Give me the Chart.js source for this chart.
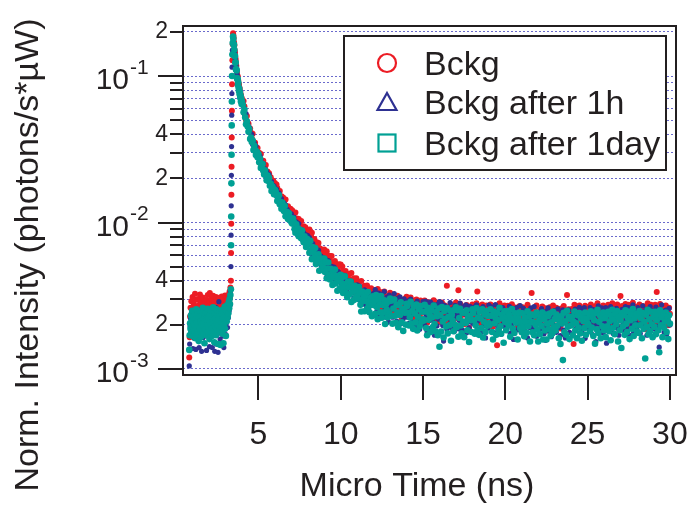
<!DOCTYPE html>
<html>
<head>
<meta charset="utf-8">
<script src="https://cdn.jsdelivr.net/npm/chart.js@4.4.0/dist/chart.umd.min.js"></script>
<style>
  html, body { margin: 0; background: #fff; }
  canvas { display: block; }
</style>
</head>
<body>
<canvas id="decayChart" width="690" height="506"></canvas>
<script>
/* ---------- Data (intensities stored in units of 1e-5) ---------- */
const Y_UNIT = 1e-5;

const microTime = [
  // before the pulse
  0.800,0.825,0.850,0.875,0.900,0.925,0.950,0.975,1.000,1.025,1.050,1.075,1.100,1.125,1.150,1.175,1.200,1.225,1.250,1.275,
  1.300,1.325,1.350,1.375,1.400,1.425,1.450,1.475,1.500,1.525,1.550,1.575,1.600,1.625,1.650,1.675,1.700,1.725,1.750,1.775,
  1.800,1.825,1.850,1.875,1.900,1.925,1.950,1.975,2.000,2.025,2.050,2.075,2.100,2.125,2.150,2.175,2.200,2.225,2.250,2.275,
  2.300,2.325,2.350,2.375,2.400,2.425,2.450,2.475,2.500,2.525,2.550,2.575,2.600,2.625,2.650,2.675,2.700,2.725,2.750,2.775,
  2.800,2.825,2.850,2.875,2.900,2.925,2.950,2.975,3.000,3.025,3.050,3.075,3.100,3.125,3.150,3.175,3.200,3.225,3.250,3.275,
  3.300,
  // rising edge
  3.33,3.34,3.35,3.36,3.37,3.38,3.39,3.40,3.42,3.44,3.46,
  // peak
  3.48,3.50,3.52,3.54,3.56,3.58,3.60,3.62,3.64,3.66,3.68,3.70,3.72,3.74,3.76,3.78,3.80,3.82,3.84,3.86,
  3.88,3.90,3.92,3.94,3.96,3.98,4.00,
  // fast decay
  4.05,4.10,4.15,4.20,4.25,4.30,4.35,4.40,4.45,4.50,4.55,4.60,4.65,4.70,4.75,4.80,4.85,4.90,4.95,5.00,
  5.05,5.10,5.15,5.20,5.25,5.30,5.35,5.40,5.45,5.50,5.55,5.60,5.65,5.70,5.75,5.80,5.85,5.90,5.95,6.00,
  // slow decay + background
  6.05,6.10,6.15,6.20,6.25,6.30,6.35,6.40,6.45,6.50,6.55,6.60,6.65,6.70,6.75,6.80,6.85,6.90,6.95,7.00,
  7.05,7.10,7.15,7.20,7.25,7.30,7.35,7.40,7.45,7.50,7.55,7.60,7.65,7.70,7.75,7.80,7.85,7.90,7.95,8.00,
  8.05,8.10,8.15,8.20,8.25,8.30,8.35,8.40,8.45,8.50,8.55,8.60,8.65,8.70,8.75,8.80,8.85,8.90,8.95,9.00,
  9.05,9.10,9.15,9.20,9.25,9.30,9.35,9.40,9.45,9.50,9.55,9.60,9.65,9.70,9.75,9.80,9.85,9.90,9.95,10.00,
  10.05,10.10,10.15,10.20,10.25,10.30,10.35,10.40,10.45,10.50,10.55,10.60,10.65,10.70,10.75,10.80,10.85,10.90,10.95,11.00,
  11.05,11.10,11.15,11.20,11.25,11.30,11.35,11.40,11.45,11.50,11.55,11.60,11.65,11.70,11.75,11.80,11.85,11.90,11.95,12.00,
  12.05,12.10,12.15,12.20,12.25,12.30,12.35,12.40,12.45,12.50,12.55,12.60,12.65,12.70,12.75,12.80,12.85,12.90,12.95,13.00,
  13.05,13.10,13.15,13.20,13.25,13.30,13.35,13.40,13.45,13.50,13.55,13.60,13.65,13.70,13.75,13.80,13.85,13.90,13.95,14.00,
  14.05,14.10,14.15,14.20,14.25,14.30,14.35,14.40,14.45,14.50,14.55,14.60,14.65,14.70,14.75,14.80,14.85,14.90,14.95,15.00,
  15.05,15.10,15.15,15.20,15.25,15.30,15.35,15.40,15.45,15.50,15.55,15.60,15.65,15.70,15.75,15.80,15.85,15.90,15.95,16.00,
  16.05,16.10,16.15,16.20,16.25,16.30,16.35,16.40,16.45,16.50,16.55,16.60,16.65,16.70,16.75,16.80,16.85,16.90,16.95,17.00,
  17.05,17.10,17.15,17.20,17.25,17.30,17.35,17.40,17.45,17.50,17.55,17.60,17.65,17.70,17.75,17.80,17.85,17.90,17.95,18.00,
  18.05,18.10,18.15,18.20,18.25,18.30,18.35,18.40,18.45,18.50,18.55,18.60,18.65,18.70,18.75,18.80,18.85,18.90,18.95,19.00,
  19.05,19.10,19.15,19.20,19.25,19.30,19.35,19.40,19.45,19.50,19.55,19.60,19.65,19.70,19.75,19.80,19.85,19.90,19.95,20.00,
  20.05,20.10,20.15,20.20,20.25,20.30,20.35,20.40,20.45,20.50,20.55,20.60,20.65,20.70,20.75,20.80,20.85,20.90,20.95,21.00,
  21.05,21.10,21.15,21.20,21.25,21.30,21.35,21.40,21.45,21.50,21.55,21.60,21.65,21.70,21.75,21.80,21.85,21.90,21.95,22.00,
  22.05,22.10,22.15,22.20,22.25,22.30,22.35,22.40,22.45,22.50,22.55,22.60,22.65,22.70,22.75,22.80,22.85,22.90,22.95,23.00,
  23.05,23.10,23.15,23.20,23.25,23.30,23.35,23.40,23.45,23.50,23.55,23.60,23.65,23.70,23.75,23.80,23.85,23.90,23.95,24.00,
  24.05,24.10,24.15,24.20,24.25,24.30,24.35,24.40,24.45,24.50,24.55,24.60,24.65,24.70,24.75,24.80,24.85,24.90,24.95,25.00,
  25.05,25.10,25.15,25.20,25.25,25.30,25.35,25.40,25.45,25.50,25.55,25.60,25.65,25.70,25.75,25.80,25.85,25.90,25.95,26.00,
  26.05,26.10,26.15,26.20,26.25,26.30,26.35,26.40,26.45,26.50,26.55,26.60,26.65,26.70,26.75,26.80,26.85,26.90,26.95,27.00,
  27.05,27.10,27.15,27.20,27.25,27.30,27.35,27.40,27.45,27.50,27.55,27.60,27.65,27.70,27.75,27.80,27.85,27.90,27.95,28.00,
  28.05,28.10,28.15,28.20,28.25,28.30,28.35,28.40,28.45,28.50,28.55,28.60,28.65,28.70,28.75,28.80,28.85,28.90,28.95,29.00,
  29.05,29.10,29.15,29.20,29.25,29.30,29.35,29.40,29.45,29.50,29.55,29.60,29.65,29.70,29.75,29.80,29.85,29.90,29.95,30.00
];

const bckg = [
  120,165,228,262,204,290,236,198,310,252,216,280,190,244,326,230,268,206,298,224,
  186,254,300,232,212,276,322,240,264,196,284,248,218,308,236,270,182,256,292,226,
  262,214,296,238,274,320,204,250,286,232,330,224,266,192,302,246,278,214,316,240,
  272,200,288,234,258,310,220,264,188,294,242,276,214,306,250,230,284,196,270,312,
  228,264,300,212,250,282,236,318,266,244,296,258,314,276,300,262,322,290,338,306,
  360,
  400,620,980,1550,2400,3800,5800,8800,12800,16500,19600,
  19000,18200,17000,16200,15000,14400,13300,12900,12000,11700,10900,10700,10100,9950,9400,9300,8850,8750,8300,8250,
  7850,7800,7450,7400,7100,7100,6850,
  6670,6750,6210,5460,5000,5340,4800,4720,4150,4380,4100,3750,4030,3560,3330,3500,3280,2940,3230,2960,
  2990,2740,2930,2650,2450,2640,2480,2330,2470,2160,2230,2110,2170,1900,2040,1940,1800,1930,1760,1860,
  1701,1821,1719,1543,1463,1644,1503,1508,1358,1482,1397,1301,1433,1273,1195,1293,1245,1114,1240,1142,
  1211,1145,1047,1073,1172,1003,1067,947,1058,999,924,1022,856,914,943,838,927,825,866,809,
  803,895,733,806,851,735,684,771,712,626,734,669,726,616,665,566,650,622,563,655,
  612,535,637,560,498,592,551,512,591,482,528,492,546,439,518,487,452,518,459,517,
  437,500,463,403,377,467,421,437,375,445,412,377,453,380,358,416,398,335,416,374,
  393,365,321,343,399,323,357,303,370,343,312,372,285,327,348,298,356,307,337,314,
  294,346,271,318,351,292,272,336,304,260,331,294,338,274,312,247,311,298,262,331,
  298,249,323,274,237,303,283,257,316,240,280,258,298,224,289,269,244,300,259,311,
  293,269,232,255,308,238,275,224,292,268,242,298,220,258,281,231,293,242,273,249,
  244,294,271,225,207,285,247,265,217,280,256,228,295,238,217,272,259,209,284,246,
  257,213,284,240,201,272,249,227,370,209,253,231,274,194,259,242,215,275,231,284,
  224,272,345,250,279,229,209,267,240,202,267,235,273,218,251,191,256,244,212,276,
  264,243,207,228,281,338,250,205,269,248,221,276,200,238,259,212,271,226,255,233,
  228,276,255,212,195,269,233,250,205,145,243,217,281,226,207,259,248,200,271,238,
  216,251,270,230,258,201,242,277,220,246,209,263,235,256,197,249,268,223,239,213,
  264,224,203,253,238,212,274,229,257,194,245,330,217,241,208,260,234,271,222,227,
  241,206,253,227,267,195,246,216,260,183,234,255,220,264,204,239,211,271,225,248,
  218,262,230,251,200,244,189,259,238,212,269,215,243,209,320,228,256,197,250,232,
  257,208,148,274,220,239,201,263,228,271,214,252,195,258,244,224,270,208,251,238,
  235,266,218,276,228,257,206,247,192,269,223,281,214,242,262,202,252,230,271,221,
  254,204,264,230,274,218,245,197,259,281,226,250,211,266,235,276,194,257,221,315,
  218,269,230,262,209,278,238,216,254,274,199,247,264,223,283,206,252,233,266,218,
  259,214,276,233,252,202,269,223,242,187,264,228,281,211,250,218,274,235,204,257,
  228,274,211,336,264,221,211,278,233,257,204,266,226,242,271,216,252,199,262,238
];

const bckg1h = [
  105,148,196,222,180,240,170,206,188,138,230,196,162,248,210,176,136,224,190,214,
  160,236,200,182,140,252,194,216,170,228,132,204,186,244,164,212,198,150,238,176,
  220,190,134,246,206,168,230,182,258,142,210,196,228,166,250,188,140,216,200,236,
  172,226,132,208,190,262,148,218,180,240,130,202,288,176,224,160,214,196,150,232,
  194,246,168,212,140,228,186,254,204,172,236,210,268,192,246,224,278,250,306,272,
  340,
  500,820,1300,2100,3300,5400,7600,11500,15000,17000,18200,
  17200,16900,16400,15100,14600,13500,13000,12300,11800,11100,10700,10300,9800,9500,9150,8850,8600,8350,8100,7800,
  7650,7400,7250,7000,6900,6700,6600,
  6750,6200,5510,5430,5540,4700,4760,4190,4460,4100,3790,3990,3410,3490,3500,3110,3320,2960,3020,2820,
  2740,2850,2690,2440,2290,2520,2310,2320,2070,2230,2110,1950,2120,1880,1780,1900,1800,1640,1780,1640,
  1563,1692,1471,1553,1595,1425,1338,1455,1355,1230,1362,1258,1319,1169,1228,1073,1179,1135,1042,1146,
  1085,983,1088,990,903,1012,955,892,984,840,897,838,891,760,853,805,751,823,745,813,
  717,790,733,643,603,717,644,655,567,652,607,556,647,556,520,590,558,485,577,521,
  567,513,447,476,549,455,497,424,502,468,427,497,394,437,458,396,463,399,431,400,
  384,437,356,405,436,370,348,403,374,326,396,360,396,331,367,305,364,345,312,376,
  346,297,368,320,278,339,317,292,347,274,312,289,324,257,315,296,273,322,281,329,
  283,349,315,248,227,330,279,304,230,323,288,241,337,257,226,308,281,210,319,266,
  309,278,226,257,327,232,281,212,303,270,234,311,204,255,286,220,301,235,276,242,
  226,292,205,260,300,233,209,281,248,196,280,238,291,211,260,187,265,248,205,288,
  257,199,291,233,180,273,244,214,287,191,246,218,276,170,255,233,197,276,219,288,
  221,284,254,198,155,272,226,248,187,265,235,202,284,214,190,257,239,180,272,227,
  262,234,188,215,282,200,242,184,266,238,205,274,177,226,253,191,268,209,246,219,
  204,265,177,238,274,211,186,259,225,177,258,219,267,197,239,163,246,229,190,273,
  197,242,266,215,251,178,229,275,202,236,188,258,221,248,173,239,263,206,227,194,
  236,190,251,217,268,175,241,202,259,159,225,251,206,263,185,229,193,271,210,240,
  204,259,217,244,180,235,163,251,225,192,261,193,228,184,267,207,240,167,232,209,
  209,246,189,258,200,235,174,223,157,248,193,261,181,215,238,166,227,201,250,189,
  237,178,221,257,192,215,169,244,202,253,184,232,163,238,221,198,253,178,230,213,
  232,171,244,204,256,189,221,163,239,264,199,229,182,251,213,262,162,239,194,228,
  241,185,262,210,233,172,254,197,222,154,249,204,270,184,231,193,261,214,176,241,
  205,262,150,229,250,196,185,267,211,240,175,252,202,223,259,190,235,170,247,217,
  193,255,208,247,181,267,217,190,238,262,170,229,250,200,274,178,235,211,252,193,
  262,202,229,175,247,215,270,188,235,196,255,170,223,240,181,267,208,250,193,225,
  188,238,265,196,225,190,141,255,211,274,202,247,178,232,252,173,240,215,259,200
];

const bckg1day = [
  135,170,205,188,232,176,214,250,196,168,224,205,183,240,198,162,218,256,190,208,
  172,236,200,155,226,193,248,180,212,166,230,202,184,262,196,174,220,150,238,206,
  186,244,170,215,198,258,178,226,192,160,234,208,182,250,200,168,228,190,264,176,
  214,152,240,196,222,170,256,204,186,232,148,218,198,246,180,228,146,210,252,192,
  236,174,220,150,244,202,266,188,230,168,248,212,272,226,254,240,286,260,300,278,
  320,
  350,700,1100,1850,2900,4600,6700,10000,14000,16800,18600,
  17900,16300,16400,15100,13700,13700,12300,12400,11100,11100,10900,9700,9500,9550,8700,9000,8300,7900,8200,7500,
  7750,7100,7350,6700,6950,6450,6700,
  6360,5660,5910,5220,4680,4900,4530,4160,4340,3710,3800,3550,3630,3120,3340,3120,2890,3050,2790,2930,
  2580,2720,2360,2460,2510,2260,2130,2270,2120,1940,2090,1930,2010,1780,1840,1640,1760,1690,1560,1670,
  1628,1535,1400,1421,1534,1330,1382,1241,1367,1285,1198,1295,1102,1160,1180,1055,1155,1049,1076,1010,
  983,1065,1008,904,851,973,892,912,807,894,845,782,882,771,734,805,768,680,775,710,
  724,622,749,649,562,681,627,575,670,520,586,541,606,468,567,530,481,566,491,568,
  459,535,416,484,533,438,408,484,443,375,471,422,477,384,432,342,427,401,355,440,
  420,383,330,357,429,331,378,309,395,362,324,396,287,336,363,296,370,306,341,313,
  302,363,331,274,247,338,292,309,248,317,290,258,335,268,244,305,287,229,313,273,
  294,238,320,265,219,297,274,244,315,224,273,243,294,203,277,254,226,289,239,303,
  230,293,204,259,298,231,207,274,243,193,273,234,285,208,254,182,258,242,201,279,
  269,242,198,225,288,204,249,188,269,239,208,275,183,227,256,195,269,210,246,218,
  214,274,247,190,170,262,217,236,179,252,225,193,271,203,181,245,229,170,259,142,
  233,180,265,211,164,249,220,195,261,175,227,199,251,156,234,214,181,253,200,264,
  193,252,166,223,258,198,175,242,211,165,242,206,252,184,225,153,230,215,179,256,
  241,215,174,199,261,184,225,171,246,221,190,256,164,210,236,179,249,197,230,205,
  200,256,231,179,159,247,205,225,171,241,216,185,262,196,174,235,221,151,248,209,
  184,226,249,200,234,166,215,257,189,220,176,240,207,232,159,222,243,190,209,178,
  240,193,167,225,209,177,248,196,228,154,210,235,178,208,170,231,200,243,185,154,
  213,173,227,197,243,159,219,183,235,159,204,229,187,239,169,208,175,246,192,219,
  183,235,197,221,162,213,148,229,205,115,242,178,212,171,250,194,227,160,220,198,
  227,170,210,247,183,205,162,233,192,241,175,221,156,229,212,190,243,171,220,204,
  200,237,181,248,192,226,168,215,149,241,187,254,176,210,233,162,221,196,243,184,
  223,165,235,196,246,181,212,157,230,254,191,218,173,238,202,249,154,226,184,215,
  139,241,196,233,171,252,204,179,223,246,160,215,235,188,257,168,221,199,238,181,
  230,176,249,199,221,162,241,188,210,118,235,194,254,173,218,181,246,202,165,226,
  194,246,173,215,235,184,130,252,199,226,165,238,191,210,243,179,221,160,233,204
];

const seriesNames = ['Bckg', 'Bckg after 1h', 'Bckg after 1day'];
const seriesColors = ['#ec1c24', '#2e3192', '#00a094'];

const xTickValues = [5, 10, 15, 20, 25, 30];
const yGridValues = [0.001,0.002,0.003,0.004,0.005,0.006,0.007,0.008,0.009,
                     0.01,0.02,0.03,0.04,0.05,0.06,0.07,0.08,0.09,0.1,0.2];
const yMajorValues = [0.001, 0.01, 0.1];
const yLabelValues = [0.2, 0.1, 0.04, 0.02, 0.01, 0.004, 0.002, 0.001];
const yLabelMant   = ['2', '10', '4', '2', '10', '4', '2', '10'];
const yLabelExp    = ['', '-1', '', '', '-2', '', '', '-3'];

const FONT = '"Liberation Sans", Arial, Helvetica, sans-serif';
const INK = '#231f20';

[bckg, bckg1h, bckg1day].forEach((s, i) => {
  if(s.length !== microTime.length){
    throw new Error('series ' + i + ' has ' + s.length + ' values, time has ' + microTime.length);
  }
});

function toPoints(vals){
  return microTime.map((t, i) => ({ x: t, y: vals[i] * Y_UNIT }));
}

/* ---------- Frame, ticks, labels, legend ---------- */
const figureDecor = {
  id: 'figureDecor',
  beforeDraw(chart){
    const c = chart.ctx;
    c.save();
    c.fillStyle = '#fff';
    c.fillRect(0, 0, chart.width, chart.height);
    c.restore();
  },
  afterDraw(chart){
    const c = chart.ctx;
    const a = chart.chartArea;
    const xs = chart.scales.x, ys = chart.scales.y;
    c.save();
    c.strokeStyle = INK;
    c.fillStyle = INK;
    c.lineWidth = 2;

    // frame
    c.strokeRect(a.left, a.top, a.right - a.left, a.bottom - a.top);

    // y tick marks
    yGridValues.forEach(v => {
      const py = Math.round(ys.getPixelForValue(v));
      const len = yMajorValues.includes(v) ? 25 : 13;
      c.beginPath(); c.moveTo(a.left - len, py); c.lineTo(a.left, py); c.stroke();
    });
    // x tick marks
    xTickValues.forEach(v => {
      const px = Math.round(xs.getPixelForValue(v));
      c.beginPath(); c.moveTo(px, a.bottom); c.lineTo(px, a.bottom + 25); c.stroke();
    });

    // y labels
    yLabelValues.forEach((v, i) => {
      const py = ys.getPixelForValue(v);
      if(!yLabelExp[i]){
        c.font = '23px ' + FONT;
        c.textAlign = 'right'; c.textBaseline = 'middle';
        c.fillText(yLabelMant[i], 168, py);
      } else {
        c.font = '30px ' + FONT;
        c.textAlign = 'right'; c.textBaseline = 'middle';
        c.fillText(yLabelMant[i], 129, py + 5);
        c.font = '21px ' + FONT;
        c.textAlign = 'left';
        c.fillText(yLabelExp[i], 130, py - 8);
      }
    });

    // x labels
    c.font = '32px ' + FONT;
    c.textAlign = 'center'; c.textBaseline = 'alphabetic';
    xTickValues.forEach(v => c.fillText(String(v), xs.getPixelForValue(v), 444));

    // axis titles
    c.font = '34px ' + FONT;
    c.fillText('Micro Time (ns)', 417, 496);
    c.save();
    c.translate(38, 255);
    c.rotate(-Math.PI / 2);
    c.fillText('Norm. Intensity (photons/s*µW)', 0, 0);
    c.restore();

    // legend
    c.fillStyle = '#fff';
    c.fillRect(344, 36, 322, 134);
    c.strokeStyle = INK;
    c.strokeRect(344, 36, 322, 134);
    const rowY = [63, 102, 143];
    c.lineWidth = 2.2;
    c.strokeStyle = seriesColors[0];
    c.beginPath(); c.arc(387, rowY[0], 9, 0, Math.PI * 2); c.stroke();
    c.strokeStyle = seriesColors[1];
    c.beginPath();
    c.moveTo(387, rowY[1] - 9); c.lineTo(396.5, rowY[1] + 8); c.lineTo(377.5, rowY[1] + 8); c.closePath();
    c.stroke();
    c.strokeStyle = seriesColors[2];
    c.strokeRect(378.5, rowY[2] - 8.5, 17, 17);

    c.fillStyle = INK;
    c.font = '34px ' + FONT;
    c.textAlign = 'left'; c.textBaseline = 'alphabetic';
    seriesNames.forEach((n, i) => c.fillText(n, 424, rowY[i] + 12));
    c.restore();
  }
};

/* ---------- Chart ---------- */
new Chart(document.getElementById('decayChart'), {
  type: 'scatter',
  data: {
    datasets: [
      { label: seriesNames[0], data: toPoints(bckg), backgroundColor: seriesColors[0],
        pointRadius: 3.0, borderWidth: 0, pointHoverRadius: 0, order: 3 },
      { label: seriesNames[1], data: toPoints(bckg1h), backgroundColor: seriesColors[1],
        pointRadius: 2.6, borderWidth: 0, pointHoverRadius: 0, order: 2 },
      { label: seriesNames[2], data: toPoints(bckg1day), backgroundColor: seriesColors[2],
        pointRadius: 3.3, borderWidth: 0, pointHoverRadius: 0, order: 1 }
    ]
  },
  options: {
    responsive: false,
    animation: false,
    devicePixelRatio: 1,
    events: [],
    layout: { autoPadding: false, padding: { left: 0, right: 14, top: 26, bottom: 0 } },
    plugins: { legend: { display: false }, tooltip: { enabled: false } },
    scales: {
      x: {
        type: 'linear', min: 0.42, max: 30.37,
        grid: { display: false },
        border: { display: false },
        ticks: { display: false },
        afterBuildTicks: (s) => { s.ticks = xTickValues.map(v => ({ value: v })); },
        afterFit: (s) => { s.height = 131; }
      },
      y: {
        type: 'logarithmic', min: 9.1e-4, max: 0.2195,
        grid: { color: 'rgba(80,80,195,0.85)', lineWidth: 1, drawTicks: false },
        border: { display: false, dash: [2, 2] },
        ticks: { display: false },
        afterBuildTicks: (s) => { s.ticks = yGridValues.map(v => ({ value: v })); },
        afterFit: (s) => { s.width = 183; }
      }
    }
  },
  plugins: [figureDecor]
});
</script>
</body>
</html>
